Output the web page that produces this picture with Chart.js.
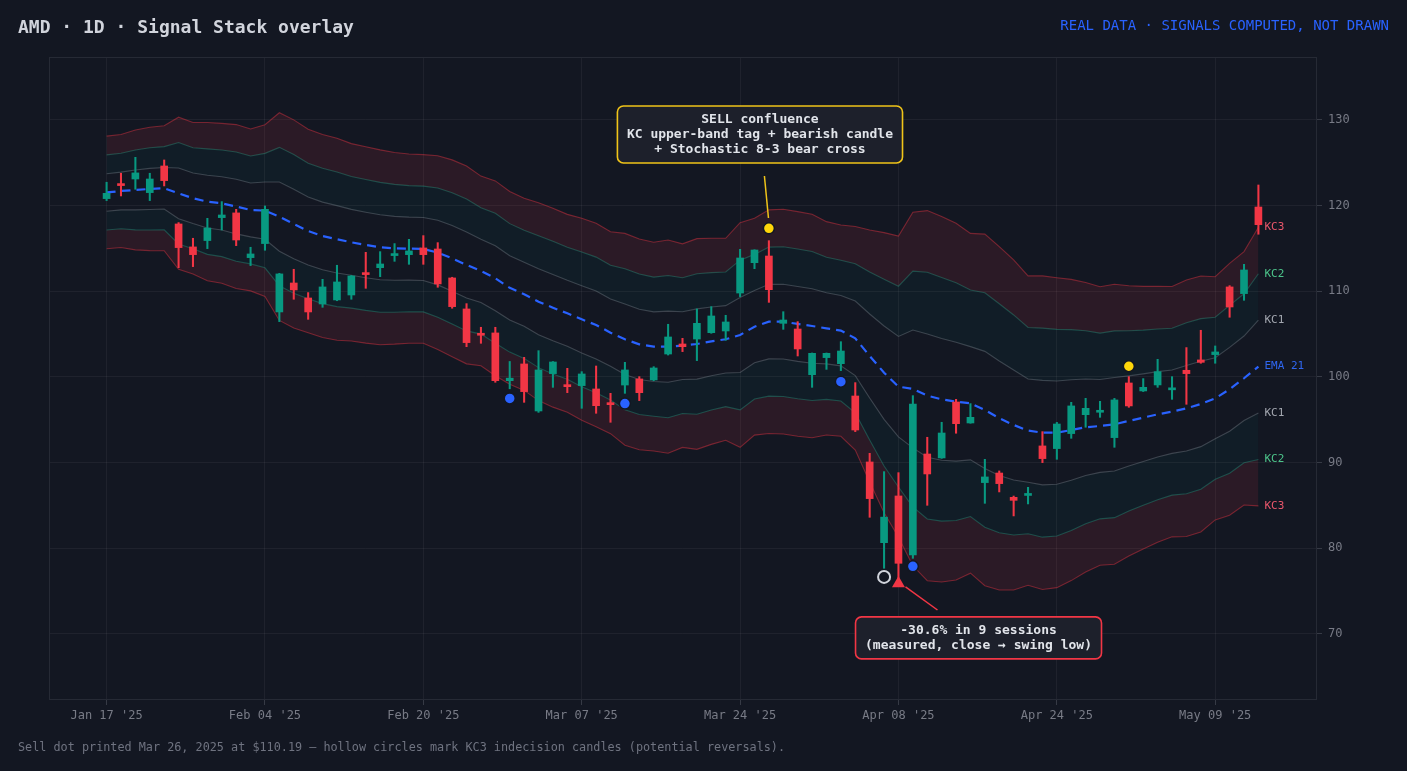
<!DOCTYPE html>
<html>
<head>
<meta charset="utf-8">
<title>AMD Signal Stack</title>
<script src="https://cdn.jsdelivr.net/npm/chart.js@4.4.0/dist/chart.umd.min.js"></script>
<style>
  html, body { margin: 0; background: #131722; }
  #c { display: block; }
</style>
</head>
<body>
<canvas id="c" width="1407" height="771"></canvas>
<script>
// --- Data ---
const sessions = [
  'Jan 17','Jan 21','Jan 22','Jan 23','Jan 24','Jan 27','Jan 28','Jan 29','Jan 30','Jan 31',
  'Feb 03','Feb 04','Feb 05','Feb 06','Feb 07','Feb 10','Feb 11','Feb 12','Feb 13','Feb 14',
  'Feb 18','Feb 19','Feb 20','Feb 21','Feb 24','Feb 25','Feb 26','Feb 27','Feb 28',
  'Mar 03','Mar 04','Mar 05','Mar 06','Mar 07','Mar 10','Mar 11','Mar 12','Mar 13','Mar 14',
  'Mar 17','Mar 18','Mar 19','Mar 20','Mar 21','Mar 24','Mar 25','Mar 26','Mar 27','Mar 28','Mar 31',
  'Apr 01','Apr 02','Apr 03','Apr 04','Apr 07','Apr 08','Apr 09','Apr 10','Apr 11','Apr 14',
  'Apr 15','Apr 16','Apr 17','Apr 21','Apr 22','Apr 23','Apr 24','Apr 25','Apr 28','Apr 29','Apr 30',
  'May 01','May 02','May 05','May 06','May 07','May 08','May 09','May 12','May 13','May 14'
];

const opens = [
  120.82,122.45,123.11,121.52,124.63,117.86,115.18,115.92,118.60,119.15,
  113.93,115.57,107.59,110.97,109.22,108.52,108.99,109.57,112.03,112.76,
  114.17,114.28,115.06,114.94,111.56,107.94,105.06,105.14,99.57,101.52,
  96.03,100.39,99.06,98.99,98.60,96.85,99.06,99.77,99.65,102.68,
  103.85,104.43,105.17,105.37,109.80,113.34,114.12,106.26,105.60,100.27,
  102.26,101.55,97.78,90.08,80.66,86.11,79.22,91.01,90.55,97.08,
  94.63,87.67,88.79,85.95,86.17,91.95,91.64,93.39,95.60,95.88,
  92.92,99.30,98.37,99.07,98.50,100.78,101.99,102.61,110.51,109.73,119.84
];
const highs = [
  122.73,123.78,125.64,123.78,125.33,118.02,116.19,118.52,120.47,119.57,
  115.14,119.96,112.10,112.57,109.85,111.40,113.04,111.85,114.55,114.63,
  115.57,116.07,116.50,115.68,111.64,108.56,105.80,105.80,101.81,102.29,
  103.07,101.80,101.01,100.62,101.28,98.09,101.71,100.04,101.20,106.15,
  104.51,107.94,108.21,107.20,114.90,114.85,115.91,107.62,106.46,102.80,
  102.80,104.12,99.34,91.09,88.95,88.83,97.82,92.96,94.71,97.39,
  96.89,90.39,89.03,86.10,87.12,93.62,94.70,97.04,97.51,97.16,
  97.50,100.04,99.81,102.06,100.04,103.43,105.45,103.62,110.66,113.15,122.41
];
const lows = [
  120.59,121.13,121.91,120.59,122.30,112.76,112.88,114.98,117.16,115.33,
  113.00,114.79,106.46,109.07,106.73,108.13,108.90,109.07,110.35,111.71,
  113.50,113.15,113.15,110.47,108.02,103.54,103.93,99.38,98.62,97.04,
  95.87,98.79,98.17,96.34,95.76,94.71,98.09,97.24,99.57,102.56,
  102.96,101.91,105.10,104.28,109.38,112.64,108.71,105.56,102.45,98.79,
  100.89,100.74,93.62,83.62,77.67,76.48,78.83,85.02,90.50,93.43,
  94.60,85.25,86.58,83.78,85.18,90.00,90.39,92.84,94.13,95.29,
  91.79,96.46,98.30,98.79,97.39,96.81,101.60,101.60,106.97,108.95,116.66
];
const closes = [
  121.44,122.34,123.82,123.11,122.92,115.10,114.28,117.39,118.91,115.99,
  114.36,119.57,112.03,110.16,107.59,110.51,111.09,111.79,111.95,113.19,
  114.32,114.71,114.28,110.86,108.21,104.01,104.87,99.57,99.86,98.29,
  100.82,101.75,98.87,100.35,96.65,96.77,100.82,98.17,101.05,104.67,
  103.54,106.26,107.12,106.42,113.89,114.82,110.19,106.65,103.27,102.76,
  102.76,103.03,93.81,85.80,83.64,78.25,96.85,88.68,93.46,94.55,
  95.29,88.33,87.55,85.60,86.23,90.47,94.51,96.62,96.34,95.99,
  97.32,96.62,98.79,100.62,98.56,100.39,101.71,102.92,108.17,112.49,117.78
];

const ema21 = [
  121.54,121.71,121.83,121.95,122.03,121.44,120.86,120.47,120.27,119.89,
  119.50,119.42,118.72,117.86,117.04,116.46,116.07,115.72,115.41,115.14,
  115.02,114.98,114.94,114.52,113.85,113.08,112.38,111.52,110.40,109.65,
  108.79,108.09,107.43,106.73,106.07,105.17,104.40,103.81,103.54,103.54,
  103.66,103.85,104.16,104.40,104.90,105.87,106.46,106.46,106.19,105.95,
  105.68,105.41,104.51,102.45,100.50,98.87,98.60,97.82,97.39,97.12,
  96.93,96.15,95.18,94.40,93.74,93.50,93.50,93.81,94.13,94.28,
  94.48,94.87,95.25,95.64,95.95,96.34,96.85,97.51,98.56,99.85,101.21
];
// channel unit (distance EMA -> KC1)
const kcUnit = [
  2.19,2.20,2.33,2.40,2.43,2.96,2.95,3.08,3.11,3.19,
  3.15,3.34,4.04,4.05,3.96,3.95,3.93,3.84,3.82,3.79,
  3.73,3.68,3.67,3.77,3.83,3.85,3.69,3.79,3.75,3.74,
  3.85,3.87,3.85,3.93,3.96,3.93,4.12,4.10,4.06,4.15,
  3.96,4.10,4.01,3.93,4.37,4.22,4.35,4.37,4.37,4.35,
  4.15,4.11,4.35,4.90,5.45,5.86,6.88,7.20,7.11,6.94,
  6.61,6.84,6.68,6.42,6.02,6.10,6.03,5.86,5.63,5.42,
  5.45,5.26,5.11,4.98,4.87,4.99,4.98,4.73,4.90,4.93,5.42
];

const yTicks = [70, 80, 90, 100, 110, 120, 130];
const xTickEvery = 11;

// signal markers: session index + price
const touchDots = [[28, 97.5], [36, 96.9], [51, 99.45], [56, 77.9]];
const sellDots = [[46, 117.35], [71, 101.25]];
const indecision = [[54, 76.66]];
const swingLow = [[55, 75.9]];

const UP = '#089981', DOWN = '#f23645', BG = '#131722';
const MONO = '"DejaVu Sans Mono", monospace';

const idx = sessions.map((_, i) => i);
const band = k => idx.map(i => ({ x: i, y: ema21[i] + k * kcUnit[i] }));
const pts = arr => arr.map(([i, p]) => ({ x: i, y: p }));
const candleColor = c => closes[c.dataIndex] >= opens[c.dataIndex] ? UP : DOWN;

function bandLine(data, color, fill, fillColor) {
  return {
    type: 'line', data, borderColor: color, borderWidth: 1.1, pointRadius: 0,
    fill: fill, backgroundColor: fillColor, tension: 0, order: 20
  };
}

const redZone = 'rgba(242,54,69,0.11)';
const tealZone = 'rgba(8,153,129,0.055)';

const datasets = [
  bandLine(band(3), 'rgba(242,54,69,0.42)', 1, redZone),
  bandLine(band(2), 'rgba(38,166,140,0.38)', 2, tealZone),
  bandLine(band(1), 'rgba(160,170,180,0.30)', false),
  bandLine(band(-1), 'rgba(160,170,180,0.30)', 4, tealZone),
  bandLine(band(-2), 'rgba(38,166,140,0.38)', 5, redZone),
  bandLine(band(-3), 'rgba(242,54,69,0.42)', false),
  {
    type: 'line', data: idx.map(i => ({ x: i, y: ema21[i] })), borderColor: '#2962ff',
    borderWidth: 2.2, borderDash: [9, 6], pointRadius: 0, fill: false, order: 15
  },
  {
    type: 'bar', data: idx.map(i => ({ x: i, y: [lows[i], highs[i]] })),
    backgroundColor: candleColor, barThickness: 1.4, grouped: false, borderWidth: 0, order: 10
  },
  {
    type: 'bar', data: idx.map(i => ({ x: i, y: [opens[i], closes[i]] })),
    backgroundColor: candleColor, barThickness: 7, grouped: false, borderWidth: 0,
    minBarLength: 2, order: 9
  },
  {
    type: 'scatter', data: pts(touchDots), pointRadius: 5.5, pointBackgroundColor: '#2962ff',
    pointBorderColor: BG, pointBorderWidth: 1.5, order: 1
  },
  {
    type: 'scatter', data: pts(sellDots), pointRadius: 5.5, pointBackgroundColor: '#ffd60a',
    pointBorderColor: BG, pointBorderWidth: 1.5, order: 1
  },
  {
    type: 'scatter', data: pts(indecision), pointRadius: 6, pointBackgroundColor: 'rgba(0,0,0,0)',
    pointBorderColor: '#d1d4dc', pointBorderWidth: 2, order: 1
  },
  {
    type: 'scatter', data: pts(swingLow), pointStyle: 'triangle', pointRadius: 7.5,
    pointBackgroundColor: DOWN, pointBorderWidth: 0, order: 1
  }
];

// annotation notes, anchored in data space
const notes = [
  {
    lines: ['SELL confluence', 'KC upper-band tag + bearish candle', '+ Stochastic 8-3 bear cross'],
    at: [45.38, 128.31], color: '#f0c419', from: [45.69, 123.46], to: [45.97, 118.56]
  },
  {
    lines: ['-30.6% in 9 sessions', '(measured, close \u2192 swing low)'],
    at: [60.56, 69.54], color: '#f23645', from: [55.49, 75.49], to: [57.71, 72.8]
  }
];

const bandLabels = [
  ['KC3', 3, '#e8566b'], ['KC2', 2, '#4cc38a'], ['KC1', 1, '#a3a7b0'], ['EMA 21', 0, '#2f66f0'],
  ['KC1', -1, '#a3a7b0'], ['KC2', -2, '#4cc38a'], ['KC3', -3, '#e8566b']
];

const overlay = {
  id: 'overlay',
  afterDatasetsDraw(chart) {
    const { ctx, scales: { x, y } } = chart;
    ctx.save();
    // right-edge band labels
    const last = sessions.length - 1;
    ctx.font = '11px ' + MONO;
    ctx.textBaseline = 'middle';
    ctx.textAlign = 'left';
    bandLabels.forEach(([t, k, col]) => {
      ctx.fillStyle = col;
      ctx.fillText(t, x.getPixelForValue(last) + 6, y.getPixelForValue(ema21[last] + k * kcUnit[last]));
    });
    // notes
    ctx.font = 'bold 13px ' + MONO;
    notes.forEach(n => {
      ctx.strokeStyle = n.color;
      ctx.lineWidth = 1.5;
      ctx.beginPath();
      ctx.moveTo(x.getPixelForValue(n.from[0]), y.getPixelForValue(n.from[1]));
      ctx.lineTo(x.getPixelForValue(n.to[0]), y.getPixelForValue(n.to[1]));
      ctx.stroke();
      const w = Math.max(...n.lines.map(l => ctx.measureText(l).width)) + 19;
      const h = n.lines.length * 15 + 12;
      const cx = x.getPixelForValue(n.at[0]), cy = y.getPixelForValue(n.at[1]);
      ctx.beginPath();
      ctx.roundRect(cx - w / 2, cy - h / 2, w, h, 6);
      ctx.fillStyle = '#1d202b';
      ctx.fill();
      ctx.lineWidth = 1.6;
      ctx.stroke();
      ctx.fillStyle = '#e1e4ea';
      ctx.textAlign = 'center';
      n.lines.forEach((l, j) => ctx.fillText(l, cx, cy - h / 2 + 6 + 7.5 + j * 15 + 0.5));
    });
    ctx.restore();
  },
  afterDraw(chart) {
    const { ctx, chartArea: a } = chart;
    ctx.save();
    ctx.strokeStyle = '#262a35';
    ctx.lineWidth = 1;
    ctx.strokeRect(a.left + 0.5, a.top + 0.5, a.right - a.left, a.bottom - a.top);
    ctx.textBaseline = 'alphabetic';
    ctx.textAlign = 'left';
    ctx.fillStyle = '#d1d4dc';
    ctx.font = 'bold 18px ' + MONO;
    ctx.fillText('AMD \u00b7 1D \u00b7 Signal Stack overlay', 18, 33);
    ctx.textAlign = 'right';
    ctx.fillStyle = '#2962ff';
    ctx.font = '14px ' + MONO;
    ctx.fillText('REAL DATA \u00b7 SIGNALS COMPUTED, NOT DRAWN', 1389, 30);
    ctx.textAlign = 'left';
    ctx.fillStyle = '#6f7380';
    ctx.font = '11.8px ' + MONO;
    ctx.fillText('Sell dot printed Mar 26, 2025 at $110.19 \u2014 hollow circles mark KC3 indecision candles (potential reversals).', 18, 751);
    ctx.restore();
  }
};

const gridColor = 'rgba(255,255,255,0.05)';

new Chart(document.getElementById('c'), {
  type: 'line',
  data: { datasets },
  options: {
    responsive: false,
    animation: false,
    devicePixelRatio: 1,
    layout: { padding: { left: 49, top: 57, right: 0, bottom: 40 } },
    plugins: { legend: { display: false }, tooltip: { enabled: false } },
    scales: {
      x: {
        type: 'linear', min: -4, max: 84, offset: false,
        afterBuildTicks: s => { s.ticks = idx.filter(i => i % xTickEvery === 0).map(v => ({ value: v })); },
        afterFit: s => { s.height = 32; },
        ticks: {
          color: '#787b86', font: { family: MONO, size: 12 }, padding: 4, maxRotation: 0,
          autoSkip: false, callback: v => sessions[v] + " '25"
        },
        grid: { color: gridColor, tickColor: '#363a45', tickLength: 6, offset: false },
        border: { display: false }
      },
      y: {
        position: 'right', min: 62.41, max: 137.35,
        afterBuildTicks: s => { s.ticks = yTicks.map(v => ({ value: v })); },
        afterFit: s => { s.width = 91; },
        ticks: { color: '#787b86', font: { family: MONO, size: 12 }, padding: 6 },
        grid: { color: gridColor, tickColor: '#363a45', tickLength: 6 },
        border: { display: false }
      }
    }
  },
  plugins: [overlay]
});
</script>
</body>
</html>
